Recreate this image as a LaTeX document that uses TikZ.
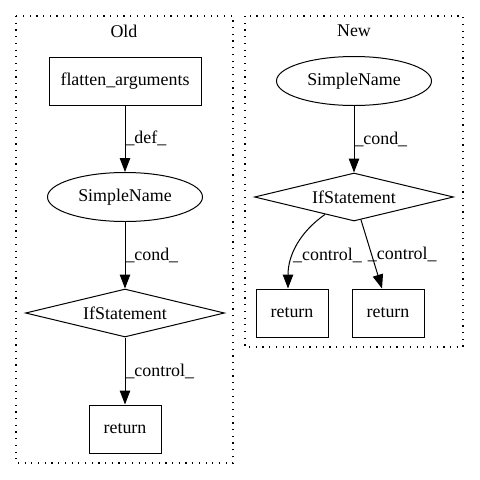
\documentclass[tikz,border=0pt]{standalone}
\usepackage{fontspec}
\setmainfont{Liberation Serif}
\usetikzlibrary{shapes.geometric,arrows.meta}
\begin{document}
\begin{tikzpicture}[x=1pt,y=-1pt,
  every node/.style={font=\fontsize{17.9}{21}\selectfont},
  base/.style={draw,line width=1pt,inner sep=0pt},
  boxnode/.style={base,rectangle,minimum height=48pt},
  ellnode/.style={base,ellipse,minimum width=155pt,minimum height=49pt},
  dianode/.style={base,diamond,shape aspect=4,minimum width=199pt,minimum height=48pt},
  edge/.style={line width=1pt,-{Triangle[length=14pt,width=10.5pt]}},
  elabel/.style={anchor=west,inner sep=0pt},
  cluster/.style={line width=1.2pt,dash pattern=on 1.2pt off 5.5pt}
]
\useasboundingbox (0,0) rectangle (480,480);
% clusters
\draw[cluster] (16,16) rectangle (233,463);
\draw[cluster] (245,16) rectangle (463,347);
\node (toldt) at (124,31) {Old};
\node (tnew) at (354,31) {New};
% old nodes
\node[boxnode,minimum width=152pt] (fa) at (125,81) {flatten\_arguments};
\node[ellnode] (sn1) at (125,197) {SimpleName};
\node[dianode] (if1) at (125,313) {IfStatement};
\node[boxnode,minimum width=72pt] (r1) at (125,429) {return};
% new nodes
\node[ellnode] (sn2) at (354,81) {SimpleName};
\node[dianode] (if2) at (354,197) {IfStatement};
\node[boxnode,minimum width=72pt] (r2) at (292,313) {return};
\node[boxnode,minimum width=72pt] (r3) at (388,313) {return};
% old edges
\draw[edge] (fa) -- node[elabel] {\_def\_} (sn1);
\draw[edge] (sn1) -- node[elabel] {\_cond\_} (if1);
\draw[edge] (if1) -- node[elabel] {\_control\_} (r1);
% new edges
\draw[edge] (sn2) -- node[elabel] {\_cond\_} (if2);
\draw[edge] (if2.-149.6) .. controls (300,232) and (288,255) .. ([xshift=-4pt]r2.north);
\node[elabel] (l2) at (293,255) {\_control\_};
\draw[edge] (if2.-73) -- node[elabel,xshift=-4pt] {\_control\_} ([xshift=-6pt]r3.north);
\end{tikzpicture}
\end{document}
